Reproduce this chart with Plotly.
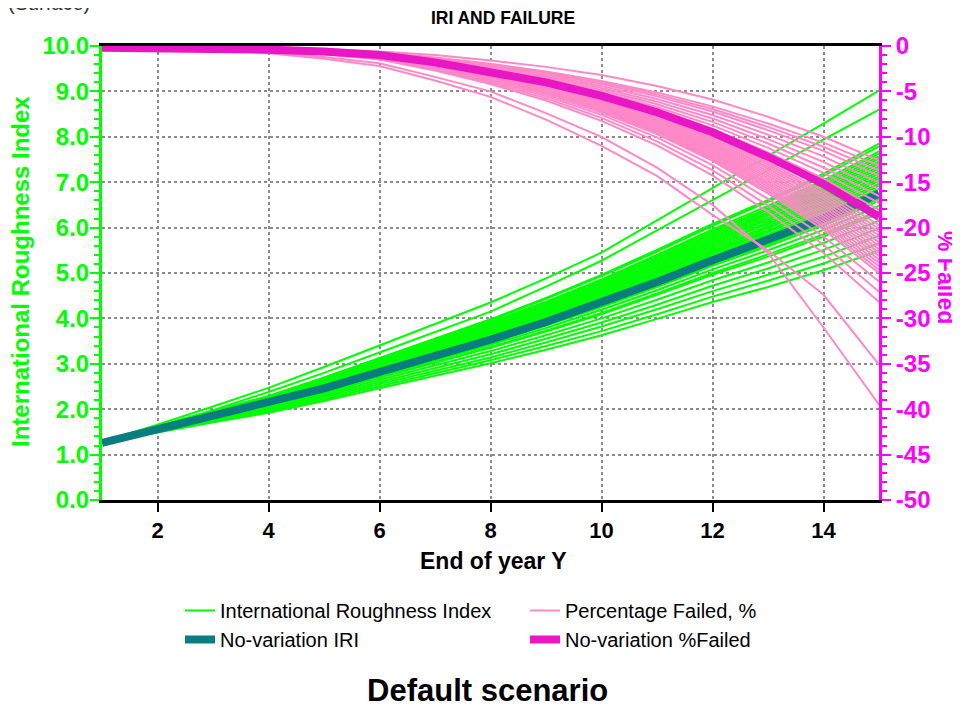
import plotly.graph_objects as go

# ---------------- data ----------------
years = [1, 2, 3, 4, 5, 6, 7, 8, 9, 10, 11, 12, 13, 14, 15]

x_tick_vals = [2, 4, 6, 8, 10, 12, 14]
x_tick_text = ["2", "4", "6", "8", "10", "12", "14"]
iri_tick_vals = [0, 1, 2, 3, 4, 5, 6, 7, 8, 9, 10]
iri_tick_text = ["0.0", "1.0", "2.0", "3.0", "4.0", "5.0", "6.0", "7.0", "8.0", "9.0", "10.0"]
fail_tick_vals = [-50, -45, -40, -35, -30, -25, -20, -15, -10, -5, 0]
fail_tick_text = ["-50", "-45", "-40", "-35", "-30", "-25", "-20", "-15", "-10", "-5", "0"]

# No-variation (deterministic) runs
iri_base = [1.26, 1.56, 1.84, 2.12, 2.46, 2.82, 3.17, 3.53, 3.92, 4.34, 4.80, 5.28, 5.72, 6.20, 6.75]
failed_base = [-0.2, -0.2, -0.3, -0.4, -0.6, -1.0, -1.8, -2.8, -4.0, -5.5, -7.3, -9.5, -12.2, -15.2, -18.8]

# Simulated IRI runs
iri_runs = [
    [1.28, 1.66, 2.06, 2.47, 2.93, 3.40, 3.87, 4.35, 4.88, 5.45, 6.16, 6.87, 7.58, 8.29, 9.02],
    [1.27, 1.62, 1.98, 2.38, 2.80, 3.25, 3.70, 4.15, 4.70, 5.27, 5.94, 6.60, 7.27, 7.94, 8.60],
    [1.26, 1.62, 1.96, 2.29, 2.70, 3.13, 3.55, 3.98, 4.45, 4.96, 5.51, 6.08, 6.61, 7.19, 7.85],
    [1.26, 1.62, 1.95, 2.28, 2.69, 3.12, 3.53, 3.96, 4.43, 4.93, 5.47, 6.04, 6.57, 7.14, 7.79],
    [1.26, 1.61, 1.94, 2.27, 2.66, 3.09, 3.49, 3.92, 4.37, 4.86, 5.40, 5.96, 6.48, 7.04, 7.68],
    [1.26, 1.61, 1.93, 2.26, 2.65, 3.07, 3.48, 3.89, 4.35, 4.83, 5.37, 5.92, 6.43, 6.99, 7.63],
    [1.26, 1.61, 1.93, 2.25, 2.64, 3.05, 3.46, 3.87, 4.32, 4.80, 5.33, 5.88, 6.39, 6.94, 7.57],
    [1.26, 1.60, 1.92, 2.24, 2.63, 3.04, 3.44, 3.85, 4.29, 4.77, 5.30, 5.84, 6.34, 6.89, 7.52],
    [1.26, 1.60, 1.92, 2.23, 2.62, 3.02, 3.42, 3.83, 4.27, 4.74, 5.26, 5.80, 6.30, 6.84, 7.46],
    [1.26, 1.60, 1.91, 2.22, 2.60, 3.01, 3.40, 3.80, 4.24, 4.71, 5.22, 5.76, 6.26, 6.79, 7.41],
    [1.26, 1.59, 1.90, 2.22, 2.59, 2.99, 3.38, 3.78, 4.21, 4.68, 5.19, 5.72, 6.21, 6.74, 7.35],
    [1.26, 1.59, 1.90, 2.21, 2.58, 2.98, 3.36, 3.76, 4.19, 4.65, 5.15, 5.68, 6.17, 6.69, 7.30],
    [1.26, 1.59, 1.89, 2.20, 2.57, 2.96, 3.34, 3.73, 4.16, 4.62, 5.12, 5.64, 6.12, 6.65, 7.24],
    [1.26, 1.58, 1.89, 2.19, 2.56, 2.94, 3.32, 3.71, 4.13, 4.59, 5.08, 5.60, 6.08, 6.60, 7.19],
    [1.26, 1.58, 1.88, 2.18, 2.54, 2.93, 3.30, 3.69, 4.11, 4.56, 5.05, 5.56, 6.03, 6.55, 7.13],
    [1.26, 1.58, 1.87, 2.17, 2.53, 2.91, 3.28, 3.67, 4.08, 4.52, 5.01, 5.52, 5.99, 6.50, 7.08],
    [1.26, 1.58, 1.87, 2.16, 2.52, 2.90, 3.27, 3.64, 4.05, 4.49, 4.98, 5.48, 5.94, 6.45, 7.03],
    [1.26, 1.57, 1.86, 2.15, 2.51, 2.88, 3.25, 3.62, 4.03, 4.46, 4.94, 5.44, 5.90, 6.40, 6.97],
    [1.26, 1.57, 1.86, 2.15, 2.50, 2.87, 3.23, 3.60, 4.00, 4.43, 4.91, 5.40, 5.85, 6.35, 6.92],
    [1.26, 1.57, 1.85, 2.14, 2.48, 2.85, 3.21, 3.58, 3.97, 4.40, 4.87, 5.36, 5.81, 6.30, 6.86],
    [1.26, 1.55, 1.83, 2.10, 2.44, 2.79, 3.13, 3.48, 3.87, 4.28, 4.73, 5.20, 5.63, 6.10, 6.64],
    [1.26, 1.55, 1.82, 2.09, 2.42, 2.77, 3.11, 3.46, 3.84, 4.25, 4.69, 5.16, 5.59, 6.05, 6.59],
    [1.26, 1.55, 1.81, 2.08, 2.40, 2.74, 3.07, 3.42, 3.79, 4.19, 4.62, 5.08, 5.50, 5.95, 6.48],
    [1.26, 1.54, 1.80, 2.06, 2.38, 2.71, 3.04, 3.37, 3.73, 4.12, 4.55, 5.00, 5.41, 5.85, 6.37],
    [1.26, 1.54, 1.79, 2.05, 2.36, 2.70, 3.02, 3.35, 3.71, 4.09, 4.52, 4.96, 5.36, 5.80, 6.31],
    [1.26, 1.53, 1.78, 2.03, 2.33, 2.65, 2.96, 3.28, 3.63, 4.00, 4.41, 4.84, 5.23, 5.66, 6.15],
    [1.26, 1.52, 1.76, 2.00, 2.29, 2.60, 2.90, 3.21, 3.55, 3.91, 4.30, 4.72, 5.10, 5.51, 5.98],
    [1.26, 1.51, 1.74, 1.97, 2.26, 2.55, 2.85, 3.14, 3.47, 3.82, 4.20, 4.60, 4.96, 5.36, 5.82],
    [1.26, 1.50, 1.72, 1.95, 2.22, 2.51, 2.79, 3.08, 3.39, 3.72, 4.09, 4.48, 4.83, 5.21, 5.65],
    [1.26, 1.49, 1.71, 1.92, 2.18, 2.46, 2.73, 3.01, 3.31, 3.63, 3.99, 4.36, 4.69, 5.06, 5.49],
]

# Simulated % failed runs
failed_runs = [
    [-0.10, -0.10, -0.20, -0.25, -0.35, -0.60, -1.00, -1.60, -2.30, -3.20, -4.40, -5.90, -7.80, -10.00, -12.60],
    [-0.14, -0.14, -0.21, -0.28, -0.42, -0.70, -1.26, -1.96, -2.80, -3.85, -5.11, -6.65, -8.54, -10.64, -13.16],
    [-0.15, -0.15, -0.22, -0.29, -0.44, -0.73, -1.31, -2.04, -2.92, -4.02, -5.33, -6.94, -8.91, -11.10, -13.72],
    [-0.15, -0.15, -0.23, -0.30, -0.46, -0.76, -1.37, -2.13, -3.04, -4.18, -5.55, -7.22, -9.27, -11.55, -14.29],
    [-0.16, -0.16, -0.24, -0.32, -0.48, -0.80, -1.44, -2.24, -3.20, -4.40, -5.84, -7.60, -9.76, -12.16, -15.04],
    [-0.17, -0.17, -0.25, -0.34, -0.50, -0.84, -1.51, -2.35, -3.36, -4.62, -6.13, -7.98, -10.25, -12.77, -15.79],
    [-0.18, -0.18, -0.26, -0.35, -0.53, -0.88, -1.58, -2.46, -3.52, -4.84, -6.42, -8.36, -10.74, -13.38, -16.54],
    [-0.18, -0.18, -0.28, -0.37, -0.55, -0.92, -1.66, -2.58, -3.68, -5.06, -6.72, -8.74, -11.22, -13.98, -17.30],
    [-0.19, -0.19, -0.29, -0.38, -0.58, -0.96, -1.73, -2.69, -3.84, -5.28, -7.01, -9.12, -11.71, -14.59, -18.05],
    [-0.20, -0.20, -0.31, -0.41, -0.61, -1.02, -1.84, -2.86, -4.08, -5.61, -7.45, -9.69, -12.44, -15.50, -19.18],
    [-0.21, -0.21, -0.32, -0.42, -0.63, -1.05, -1.89, -2.94, -4.20, -5.78, -7.67, -9.98, -12.81, -15.96, -19.74],
    [-0.21, -0.21, -0.32, -0.43, -0.64, -1.07, -1.93, -3.00, -4.28, -5.89, -7.81, -10.17, -13.05, -16.26, -20.12],
    [-0.22, -0.22, -0.33, -0.44, -0.65, -1.09, -1.96, -3.05, -4.36, -6.00, -7.96, -10.36, -13.30, -16.57, -20.49],
    [-0.22, -0.22, -0.33, -0.44, -0.67, -1.11, -2.00, -3.11, -4.44, -6.11, -8.10, -10.55, -13.54, -16.87, -20.87],
    [-0.23, -0.23, -0.34, -0.45, -0.68, -1.13, -2.03, -3.16, -4.52, -6.22, -8.25, -10.74, -13.79, -17.18, -21.24],
    [-0.23, -0.23, -0.35, -0.46, -0.69, -1.15, -2.07, -3.22, -4.60, -6.33, -8.40, -10.93, -14.03, -17.48, -21.62],
    [-0.23, -0.23, -0.35, -0.47, -0.70, -1.17, -2.11, -3.28, -4.68, -6.44, -8.54, -11.12, -14.27, -17.78, -22.00],
    [-0.24, -0.24, -0.36, -0.48, -0.71, -1.19, -2.14, -3.33, -4.76, -6.55, -8.69, -11.31, -14.52, -18.09, -22.37],
    [-0.24, -0.24, -0.36, -0.48, -0.73, -1.21, -2.18, -3.39, -4.84, -6.66, -8.83, -11.50, -14.76, -18.39, -22.75],
    [-0.25, -0.25, -0.37, -0.49, -0.74, -1.23, -2.21, -3.44, -4.92, -6.77, -8.98, -11.69, -15.01, -18.70, -23.12],
    [-0.25, -0.25, -0.38, -0.50, -0.75, -1.25, -2.25, -3.50, -5.00, -6.88, -9.13, -11.88, -15.25, -19.00, -23.50],
    [-0.25, -0.25, -0.38, -0.51, -0.76, -1.27, -2.29, -3.56, -5.08, -6.99, -9.27, -12.07, -15.49, -19.30, -23.88],
    [-0.26, -0.26, -0.39, -0.52, -0.77, -1.29, -2.32, -3.61, -5.16, -7.10, -9.42, -12.26, -15.74, -19.61, -24.25],
    [-0.26, -0.26, -0.39, -0.52, -0.79, -1.31, -2.36, -3.67, -5.24, -7.21, -9.56, -12.45, -15.98, -19.91, -24.63],
    [-0.27, -0.27, -0.40, -0.53, -0.80, -1.33, -2.39, -3.72, -5.32, -7.32, -9.71, -12.64, -16.23, -20.22, -25.00],
    [-0.28, -0.28, -0.41, -0.55, -0.83, -1.38, -2.48, -3.86, -5.52, -7.59, -10.07, -13.11, -16.84, -20.98, -25.94],
    [-0.29, -0.29, -0.43, -0.58, -0.86, -1.44, -2.59, -4.03, -5.76, -7.92, -10.51, -13.68, -17.57, -21.89, -27.07],
    [-0.30, -0.30, -0.45, -0.60, -0.90, -1.50, -2.70, -4.20, -6.00, -8.25, -10.95, -14.25, -18.30, -22.80, -28.20],
    [-0.10, -0.20, -0.40, -0.70, -1.20, -1.90, -3.40, -5.00, -7.40, -10.00, -13.40, -17.50, -22.80, -31.00, -39.50],
    [-0.10, -0.20, -0.40, -0.80, -1.40, -2.20, -3.80, -5.60, -8.10, -11.00, -14.30, -18.60, -22.50, -27.40, -35.10],
]

# ---------------- styles ----------------
GREEN = "#00FF00"
PINK = "#FF88C8"
TEAL = "#0A7D80"
MAG_LINE = "#E916C6"
MAGENTA = "#FF00FF"
FONT = "Liberation Sans, Arial, sans-serif"

fig = go.Figure()

for i, run in enumerate(iri_runs):
    fig.add_trace(go.Scatter(
        x=years, y=run, mode="lines", name="International Roughness Index",
        legendgroup="iri", showlegend=(i == 0), legendrank=1,
        line=dict(color=GREEN, width=2), hoverinfo="skip"))

fig.add_trace(go.Scatter(
    x=years, y=iri_base, mode="lines", name="No-variation IRI",
    legendrank=3, line=dict(color=TEAL, width=8)))

for i, run in enumerate(failed_runs):
    fig.add_trace(go.Scatter(
        x=years, y=run, mode="lines", name="Percentage Failed, %", yaxis="y2",
        legendgroup="fail", showlegend=(i == 0), legendrank=2,
        line=dict(color=PINK, width=2), hoverinfo="skip"))

fig.add_trace(go.Scatter(
    x=years, y=failed_base, mode="lines", name="No-variation %Failed", yaxis="y2",
    legendrank=4, line=dict(color=MAG_LINE, width=8)))

# The page adds an 8px body margin, so the figure is drawn 8px smaller
OFF = 8
W, H = 960 - OFF, 708 - OFF
L, T = 102 - OFF, 46 - OFF
R = W - (879 - OFF)
B = H - (500 - OFF)
PH = H - T - B
PW = W - L - R

def px_to_paper_y(py):  # reference pixel -> paper
    return ((500 - py)) / PH

def px_to_paper_x(px):
    return (px - 102) / PW

fig.update_layout(
    width=W, height=H,
    margin=dict(l=L, r=R, t=T, b=B, pad=0),
    paper_bgcolor="white", plot_bgcolor="white",
    font=dict(family=FONT, color="black"),
    title=dict(text="IRI AND FAILURE", x=(503 - OFF) / W, xanchor="center",
               y=1 - (18 - OFF) / H, yanchor="middle", yref="container",
               font=dict(size=17.5, weight="bold", color="black", family=FONT)),
    xaxis=dict(
        range=[1, 15], tickmode="array", tickvals=x_tick_vals, ticktext=x_tick_text,
        ticks="outside", ticklen=9, tickwidth=2, tickcolor="black",
        showline=True, linecolor="black", linewidth=3, mirror=True,
        showgrid=True, gridcolor="#8C8C8C", griddash="dot", gridwidth=1.5,
        zeroline=False, ticklabelstandoff=0,
        tickfont=dict(size=22, weight="bold", color="black", family=FONT)),
    yaxis=dict(
        range=[0, 10], tickmode="array", tickvals=iri_tick_vals, ticktext=iri_tick_text,
        ticks="outside", ticklen=9, tickwidth=2, tickcolor=GREEN,
        showline=True, linecolor=GREEN, linewidth=3,
        showgrid=True, gridcolor="#8C8C8C", griddash="dot", gridwidth=1.5,
        zeroline=False, ticklabelstandoff=-4,
        minor=dict(dtick=0.2, tick0=0, ticks="outside", ticklen=5, tickwidth=2,
                   tickcolor=GREEN, showgrid=False),
        tickfont=dict(size=24, weight="bold", color=GREEN, family=FONT)),
    yaxis2=dict(
        range=[-50, 0], overlaying="y", side="right",
        tickmode="array", tickvals=fail_tick_vals, ticktext=fail_tick_text,
        ticks="outside", ticklen=9, tickwidth=2, tickcolor=MAGENTA,
        showline=True, linecolor=MAGENTA, linewidth=3,
        showgrid=False, zeroline=False,
        minor=dict(dtick=1, tick0=0, ticks="outside", ticklen=5, tickwidth=2,
                   tickcolor=MAGENTA, showgrid=False),
        tickfont=dict(size=24, weight="bold", color=MAGENTA, family=FONT)),
    legend=dict(
        orientation="h", x=px_to_paper_x(180), xanchor="left",
        y=px_to_paper_y(591), yanchor="top",
        entrywidth=300, entrywidthmode="pixels",
        font=dict(size=20, color="black", family=FONT),
        bgcolor="rgba(0,0,0,0)", tracegroupgap=0),
    showlegend=True,
)

annotations = [
    dict(text="International Roughness Index", textangle=-90,
         x=px_to_paper_x(20), y=px_to_paper_y(272), xref="paper", yref="paper",
         xanchor="center", yanchor="middle", showarrow=False,
         font=dict(size=24, weight="bold", color=GREEN, family=FONT)),
    dict(text="% Failed", textangle=90,
         x=px_to_paper_x(946), y=px_to_paper_y(277), xref="paper", yref="paper",
         xanchor="center", yanchor="middle", showarrow=False,
         font=dict(size=23, weight="bold", color=MAGENTA, family=FONT)),
    dict(text="End of year Y",
         x=px_to_paper_x(493), y=px_to_paper_y(561), xref="paper", yref="paper",
         xanchor="center", yanchor="middle", showarrow=False,
         font=dict(size=23, weight="bold", color="black", family=FONT)),
    dict(text="Default scenario",
         x=px_to_paper_x(487), y=px_to_paper_y(690), xref="paper", yref="paper",
         xanchor="center", yanchor="middle", showarrow=False,
         font=dict(size=31, weight="bold", color="black", family=FONT)),
    dict(text="(Surface)",
         x=px_to_paper_x(92), y=px_to_paper_y(3), xref="paper", yref="paper",
         xanchor="right", yanchor="middle", showarrow=False,
         font=dict(size=20, color="#333333", family=FONT)),
]
fig.update_layout(annotations=annotations)

fig.write_html("out.html")
